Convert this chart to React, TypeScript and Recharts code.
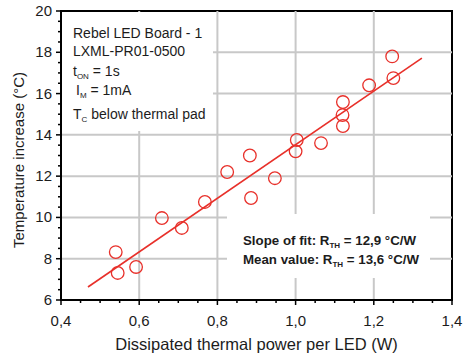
import { ScatterChart, Scatter, XAxis, YAxis, ReferenceLine, ReferenceArea } from "recharts";

// measured points (dissipated power per LED in W, temperature increase in °C)
const powerW = [0.54, 0.545, 0.592, 0.658, 0.709, 0.768, 0.825, 0.883, 0.886, 0.947, 1.003, 1.0, 1.065, 1.121, 1.12, 1.121, 1.188, 1.247, 1.25];
const tempRise = [8.32, 7.31, 7.6, 9.97, 9.49, 10.75, 12.2, 13.0, 10.94, 11.9, 13.75, 13.2, 13.6, 15.59, 14.96, 14.43, 16.4, 17.8, 16.75];

// linear fit end points
const fitPower = [0.469, 1.323];
const fitTemp = [6.63, 17.72];

const xMajor = [0.4, 0.6, 0.8, 1.0, 1.2, 1.4];
const yMajor = [6, 8, 10, 12, 14, 16, 18, 20];
const xGrid = [0.6, 0.8, 1.0, 1.2];
const yGrid = [8, 10, 12, 14, 16, 18];

// minor ticks: 4 steps per major on both axes
const xTicks: number[] = [];
for (let i = 0; i <= 20; i++) xTicks.push(+(0.4 + i * 0.05).toFixed(2));
const yTicks: number[] = [];
for (let i = 0; i <= 28; i++) yTicks.push(6 + i * 0.5);

const RED = "#e8302a";
const TEXT = "#1c1c1c";
const FONT = '"Liberation Sans", Arial, sans-serif';

const points = powerW.map((x, i) => ({ x, y: tempRise[i] }));
const fit = fitPower.map((x, i) => ({ x, y: fitTemp[i] }));

const isMajor = (v: number, majors: number[]) => majors.some((m) => Math.abs(m - v) < 1e-6);

function XTick({ x, y, payload }: any) {
  const major = isMajor(payload.value, xMajor);
  return (
    <g>
      <line x1={x} x2={x} y1={y} y2={y + (major ? 5 : 3)} stroke="#000" strokeWidth={1.5} />
      {major && (
        <text x={x} y={y + 26} textAnchor="middle" fontSize={15} fill={TEXT} fontFamily={FONT}>
          {payload.value.toFixed(1).replace(".", ",")}
        </text>
      )}
    </g>
  );
}

function YTick({ x, y, payload }: any) {
  const major = isMajor(payload.value, yMajor);
  return (
    <g>
      <line x1={x - (major ? 5 : 3)} x2={x} y1={y} y2={y} stroke="#000" strokeWidth={1.5} />
      {major && (
        <text x={x - 9} y={y + 5} textAnchor="end" fontSize={15} fill={TEXT} fontFamily={FONT}>
          {payload.value}
        </text>
      )}
    </g>
  );
}

const Ring = (props: any) => (
  <circle cx={props.cx} cy={props.cy} r={6.3} fill="none" stroke={RED} strokeWidth={1.3} />
);

export default function App() {
  return (
    <div style={{ position: "absolute", left: 0, top: 0, width: 464, height: 356, background: "#fff", fontFamily: FONT }}>
      <ScatterChart width={464} height={356} margin={{ top: 11, right: 12, bottom: 0, left: 0 }}>
        <XAxis
          type="number"
          dataKey="x"
          domain={[0.4, 1.4]}
          ticks={xTicks}
          interval={0}
          tickSize={0}
          tickMargin={0}
          tick={<XTick />}
          height={56}
          axisLine={{ stroke: "#000", strokeWidth: 2 }}
          label={{ value: "Dissipated thermal power per LED (W)", position: "insideBottom", offset: 6, fontSize: 16.5, fill: TEXT }}
        />
        <YAxis
          type="number"
          dataKey="y"
          domain={[6, 20]}
          ticks={yTicks}
          interval={0}
          tickSize={0}
          tickMargin={0}
          tick={<YTick />}
          width={61}
          axisLine={{ stroke: "#000", strokeWidth: 2 }}
        />
        {xGrid.map((v) => (
          <ReferenceLine key={"gx" + v} x={v} stroke="#c8c8c8" strokeWidth={2} />
        ))}
        {yGrid.map((v) => (
          <ReferenceLine key={"gy" + v} y={v} stroke="#c8c8c8" strokeWidth={2} />
        ))}
        <ReferenceArea x1={0.4} x2={1.4} y1={6} y2={20} fill="#fff" fillOpacity={0} stroke="#000" strokeWidth={2} />
        <Scatter data={fit} line={{ stroke: RED, strokeWidth: 1.6 }} shape={() => <g />} isAnimationActive={false} />
        <Scatter data={points} shape={<Ring />} isAnimationActive={false} />
      </ScatterChart>
      <svg width={464} height={356} style={{ position: "absolute", left: 0, top: 0, pointerEvents: "none" }}>
        <text transform="translate(24,160) rotate(-90)" textAnchor="middle" fontSize={15} fill={TEXT} fontFamily={FONT}>
          Temperature increase (°C)
        </text>
        <rect x={62} y={12} width={151} height={119} fill="#fff" />
        <g fontSize={14} fill={TEXT} fontFamily={FONT}>
          <text x={73} y={38}>Rebel LED Board - 1</text>
          <text x={73} y={56}>LXML-PR01-0500</text>
          <text x={73} y={76}>
            t<tspan fontSize={8} dy={3}>ON</tspan>
            <tspan dy={-3}> = 1s</tspan>
          </text>
          <text x={76} y={95}>
            I<tspan fontSize={8} dy={3}>M</tspan>
            <tspan dy={-3}> = 1mA</tspan>
          </text>
          <text x={73} y={119}>
            T<tspan fontSize={8} dy={3}>C</tspan>
            <tspan dy={-3}> below thermal pad</tspan>
          </text>
        </g>
        <rect x={227} y={214} width={203} height={64} fill="#fff" />
        <g fontSize={13.3} fontWeight="bold" fill={TEXT} fontFamily={FONT}>
          <text x={243} y={245}>
            Slope of fit: R<tspan fontSize={8} dy={3}>TH</tspan>
            <tspan dy={-3}> = 12,9 °C/W</tspan>
          </text>
          <text x={243} y={264}>
            Mean value: R<tspan fontSize={8} dy={3}>TH</tspan>
            <tspan dy={-3}> = 13,6 °C/W</tspan>
          </text>
        </g>
      </svg>
    </div>
  );
}
